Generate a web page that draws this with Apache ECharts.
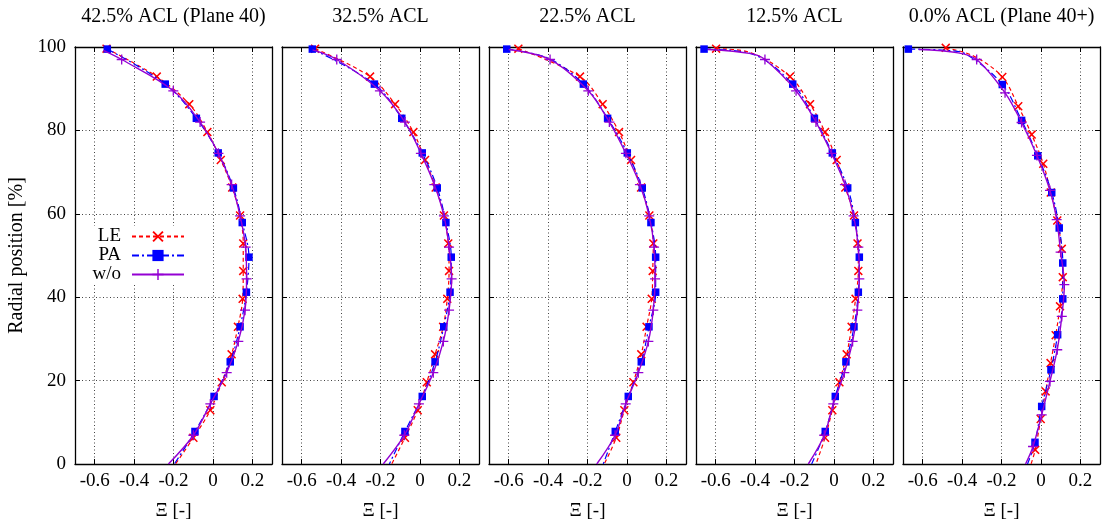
<!DOCTYPE html>
<html><head><meta charset="utf-8">
<script src="https://cdn.jsdelivr.net/npm/echarts@6/dist/echarts.min.js"></script>
<style>html,body{margin:0;padding:0;background:#fff}#c{width:1103px;height:529px}</style>
</head><body><div id="c"></div>
<script>
// ---- labels ----
const panelTitles = ['42.5% ACL (Plane 40)', '32.5% ACL', '22.5% ACL', '12.5% ACL', '0.0% ACL (Plane 40+)'];
const xTicks = [-0.6, -0.4, -0.2, 0, 0.2];
const yTicks = [0, 20, 40, 60, 80, 100];
const seriesNames = ['LE', 'PA', 'w/o'];
const xName = 'Ξ [-]';
const yName = 'Radial position [%]';

// ---- data: [Xi, radial position %] (marker points) ----
const le1 = [[-0.540,99.6],[-0.285,92.9],[-0.120,86.3],[-0.028,79.6],[0.040,72.9],[0.098,66.3],[0.138,59.6],[0.154,52.9],[0.154,46.3],[0.151,39.6],[0.127,32.9],[0.095,26.3],[0.045,19.6],[-0.013,12.9],[-0.099,6.3]];
const pa1 = [[-0.536,99.5],[-0.242,91.1],[-0.084,82.9],[0.027,74.6],[0.104,66.2],[0.149,57.9],[0.183,49.6],[0.170,41.2],[0.138,32.9],[0.088,24.5],[0.006,16.2],[-0.091,7.8]];
const wo1 = [[-0.463,97.0],[-0.201,89.5],[-0.065,82.0],[0.028,74.5],[0.095,67.0],[0.138,59.5],[0.166,52.0],[0.171,44.4],[0.163,36.9],[0.129,29.4],[0.070,21.9],[-0.013,14.4],[-0.099,6.9]];
const le2 = [[-0.532,99.6],[-0.253,92.9],[-0.126,86.3],[-0.033,79.6],[0.026,72.9],[0.080,66.3],[0.122,59.6],[0.144,52.9],[0.148,46.3],[0.139,39.6],[0.118,32.9],[0.077,26.3],[0.035,19.6],[-0.011,12.9],[-0.076,6.3]];
const pa2 = [[-0.546,99.5],[-0.231,91.1],[-0.092,82.9],[0.012,74.6],[0.088,66.2],[0.132,57.9],[0.159,49.6],[0.153,41.2],[0.121,32.9],[0.077,24.5],[0.012,16.2],[-0.076,7.8]];
const wo2 = [[-0.422,97.0],[-0.203,89.5],[-0.076,82.0],[0.005,74.5],[0.073,67.0],[0.122,59.5],[0.148,52.0],[0.161,44.4],[0.148,36.9],[0.119,29.4],[0.068,21.9],[-0.005,14.4],[-0.079,6.9]];
const le3 = [[-0.551,99.6],[-0.238,92.9],[-0.123,86.3],[-0.040,79.6],[0.021,72.9],[0.072,66.3],[0.114,59.6],[0.134,52.9],[0.131,46.3],[0.126,39.6],[0.100,32.9],[0.073,26.3],[0.033,19.6],[-0.013,12.9],[-0.054,6.3]];
const pa3 = [[-0.610,99.5],[-0.221,91.1],[-0.098,82.9],[0.002,74.6],[0.078,66.2],[0.122,57.9],[0.146,49.6],[0.146,41.2],[0.112,32.9],[0.073,24.5],[0.007,16.2],[-0.059,7.8]];
const wo3 = [[-0.390,97.0],[-0.196,89.5],[-0.089,82.0],[-0.005,74.5],[0.066,67.0],[0.113,59.5],[0.138,52.0],[0.143,44.4],[0.134,36.9],[0.109,29.4],[0.058,21.9],[-0.006,14.4],[-0.060,6.9]];
const le4 = [[-0.598,99.6],[-0.223,92.9],[-0.121,86.3],[-0.045,79.6],[0.014,72.9],[0.058,66.3],[0.102,59.6],[0.120,52.9],[0.124,46.3],[0.110,39.6],[0.090,32.9],[0.065,26.3],[0.028,19.6],[-0.008,12.9],[-0.045,6.3]];
const pa4 = [[-0.659,99.5],[-0.209,91.1],[-0.099,82.9],[-0.008,74.6],[0.070,66.2],[0.109,57.9],[0.129,49.6],[0.124,41.2],[0.102,32.9],[0.061,24.5],[0.007,16.2],[-0.044,7.8]];
const wo4 = [[-0.350,97.0],[-0.192,89.5],[-0.091,82.0],[-0.012,74.5],[0.056,67.0],[0.100,59.5],[0.124,52.0],[0.129,44.4],[0.119,36.9],[0.095,29.4],[0.053,21.9],[-0.003,14.4],[-0.049,6.9]];
const le5 = [[-0.483,99.8],[-0.196,92.8],[-0.115,85.8],[-0.047,79.0],[0.012,72.0],[0.050,65.1],[0.083,58.4],[0.106,51.6],[0.111,44.8],[0.097,37.8],[0.075,30.9],[0.049,24.2],[0.024,17.4],[-0.001,10.8],[-0.029,3.4]];
const pa5 = [[-0.673,99.5],[-0.196,91.0],[-0.098,82.4],[-0.016,73.9],[0.055,65.1],[0.093,56.6],[0.111,48.2],[0.111,39.6],[0.085,31.0],[0.051,22.6],[0.004,13.8],[-0.030,5.2]];
const wo5 = [[-0.326,97.0],[-0.182,89.0],[-0.098,81.9],[-0.020,74.0],[0.046,65.6],[0.080,58.6],[0.100,50.8],[0.119,43.0],[0.106,35.4],[0.083,27.4],[0.046,19.8],[0.004,11.8],[-0.040,4.2]];

// ---- extra curve vertices without markers (curve ends / knee) ----
const le1x = [[-0.190,0]];
const pa1x = [[-0.196,0]];
const wo1x = [[-0.556,99.2],[-0.226,0]];
const le2x = [[-0.143,0]];
const pa2x = [[-0.155,0]];
const wo2x = [[-0.545,99.3],[-0.186,0]];
const le3x = [[-0.115,0]];
const pa3x = [[-0.400,97.3],[-0.120,0]];
const wo3x = [[-0.600,99.4],[-0.153,0]];
const le4x = [[-0.420,98.6],[-0.091,0]];
const pa4x = [[-0.420,98.4],[-0.113,0]];
const wo4x = [[-0.640,99.4],[-0.420,98.4],[-0.130,0]];
const le5x = [[-0.340,97.8],[-0.050,0]];
const pa5x = [[-0.480,99.2],[-0.380,98.3],[-0.068,0]];
const wo5x = [[-0.620,99.4],[-0.420,98.6],[-0.078,0]];

const markerSets = [[le1,pa1,wo1],[le2,pa2,wo2],[le3,pa3,wo3],[le4,pa4,wo4],[le5,pa5,wo5]];
const extraSets = [[le1x,pa1x,wo1x],[le2x,pa2x,wo2x],[le3x,pa3x,wo3x],[le4x,pa4x,wo4x],[le5x,pa5x,wo5x]];

// ---- styles ----
const FONT = 'Liberation Serif';
const colors = ['#ff0000', '#0000ff', '#9400d3'];
const lineTypes = [[4,3], [7,3,2,3], 'solid'];
const crossPath = 'path://M0,1.2L1.2,0L5,3.8L8.8,0L10,1.2L6.2,5L10,8.8L8.8,10L5,6.2L1.2,10L0,8.8L3.8,5Z';
const plusPath = 'path://M4.35,0H5.65V4.35H10V5.65H5.65V10H4.35V5.65H0V4.35H4.35Z';
const symbols = [crossPath, 'rect', plusPath];
const symbolSizes = [9, 7.5, 10];

const gridLeft0 = 75, gridStep = 207, gridW = 197, gridTop = 47, gridH = 417;

function buildData(markers, extras) {
  const pts = markers.map(p => ({ value: p }))
    .concat(extras.map(p => ({ value: p, symbol: 'none' })));
  pts.sort((a, b) => b.value[1] - a.value[1]);
  return pts;
}

const grid = [], xAxis = [], yAxis = [], series = [];
const tickStyle = { show: true, inside: true, length: 5, lineStyle: { color: '#000', width: 1 } };
const axisLineStyle = { show: true, onZero: false, lineStyle: { color: '#000', width: 1.3 } };

for (let i = 0; i < 5; i++) {
  grid.push({ left: gridLeft0 + gridStep * i, top: gridTop, width: gridW, height: gridH, containLabel: false });
  // bottom x
  xAxis.push({
    type: 'value', gridIndex: i, position: 'bottom', min: -0.7, max: 0.3,
    axisLine: axisLineStyle,
    axisTick: Object.assign({}, tickStyle, { customValues: xTicks }),
    axisLabel: { customValues: xTicks, margin: 8, color: '#000', fontFamily: FONT, fontSize: 19,
      formatter: v => String(Math.round(v * 10) / 10) },
    splitLine: { show: true, lineStyle: { color: '#444', type: [1, 2.5], width: 1 } },
    name: xName, nameLocation: 'middle', nameGap: 38,
    nameTextStyle: { color: '#000', fontFamily: FONT, fontSize: 19 }
  });
  // top x (mirror ticks + title)
  xAxis.push({
    type: 'value', gridIndex: i, position: 'top', min: -0.7, max: 0.3,
    axisLine: axisLineStyle,
    axisTick: Object.assign({}, tickStyle, { customValues: xTicks }),
    axisLabel: { show: false, customValues: xTicks },
    splitLine: { show: false },
    name: panelTitles[i], nameLocation: 'middle', nameGap: 20,
    nameTextStyle: { color: '#000', fontFamily: FONT, fontSize: 20 }
  });
  // left y
  yAxis.push({
    type: 'value', gridIndex: i, position: 'left', min: 0, max: 100, interval: 20,
    axisLine: axisLineStyle, axisTick: tickStyle,
    axisLabel: { show: i === 0, margin: 9, color: '#000', fontFamily: FONT, fontSize: 19 },
    splitLine: { show: true, lineStyle: { color: '#444', type: [1, 2.5], width: 1 } },
    name: i === 0 ? yName : '', nameLocation: 'middle', nameGap: 48, nameRotate: 90,
    nameTextStyle: { color: '#000', fontFamily: FONT, fontSize: 20 }
  });
  // right y (mirror ticks)
  yAxis.push({
    type: 'value', gridIndex: i, position: 'right', min: 0, max: 100, interval: 20,
    axisLine: axisLineStyle, axisTick: tickStyle,
    axisLabel: { show: false }, splitLine: { show: false }
  });
  for (let s = 0; s < 3; s++) {
    series.push({
      name: seriesNames[s], type: 'line', xAxisIndex: 2 * i, yAxisIndex: 2 * i,
      data: buildData(markerSets[i][s], extraSets[i][s]),
      smooth: 0.35, clip: true, showAllSymbol: true,
      symbol: symbols[s], symbolSize: symbolSizes[s],
      itemStyle: { color: colors[s] },
      lineStyle: { color: colors[s], width: s === 2 ? 1.4 : 1.2, type: lineTypes[s] },
      z: 3 + s, animation: false
    });
  }
}

const legendCenters = [236, 255, 274];
const legend = seriesNames.map((n, k) => ({
  data: [n], orient: 'vertical', align: 'right',
  right: 1103 - 188, top: legendCenters[k] - 10,
  itemWidth: 52, itemHeight: 14, itemGap: 0,
  padding: [1, 3, 1, 14], backgroundColor: '#fff',
  selectedMode: false,
  textStyle: { color: '#000', fontFamily: FONT, fontSize: 19, padding: [0, 6, 0, 0] }
}));

const chart = echarts.init(document.getElementById('c'), null, { renderer: 'canvas' });
chart.setOption({
  animation: false, backgroundColor: '#fff',
  grid, xAxis, yAxis, series, legend
});
</script></body></html>
